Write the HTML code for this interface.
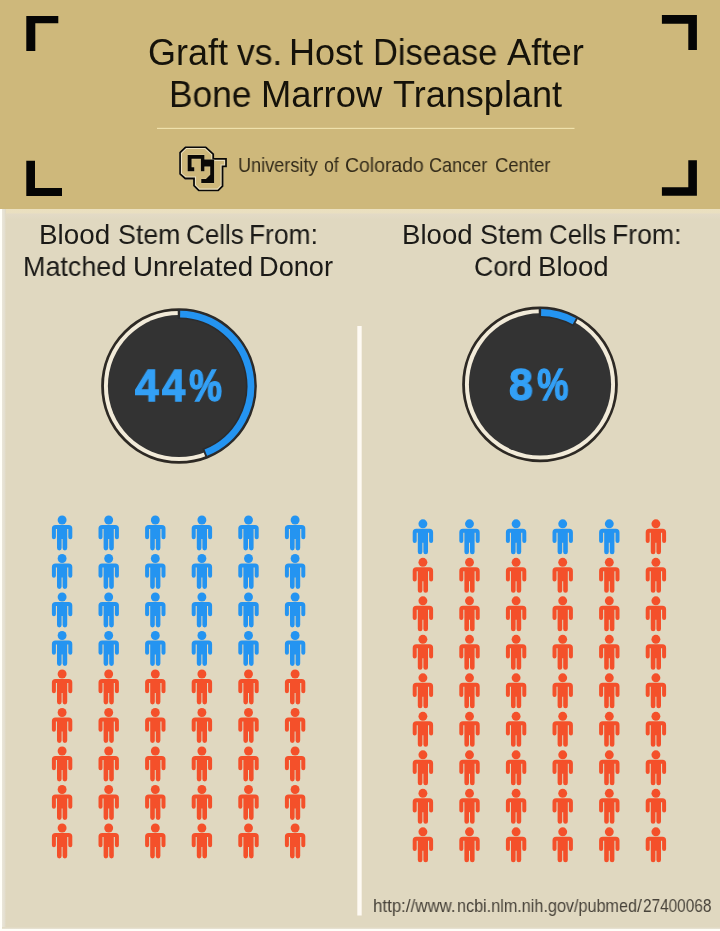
<!DOCTYPE html>
<html lang="en">
<head>
<meta charset="utf-8">
<title>Graft vs. Host Disease After Bone Marrow Transplant</title>
<style>
  html, body { margin: 0; padding: 0; }
  body {
    width: 720px; height: 931px; overflow: hidden; position: relative;
    background: #fffef8;
    font-family: "Liberation Sans", sans-serif;
  }
  #page { position: absolute; left: 0; top: 0; width: 720px; height: 931px; overflow: hidden; }
  #header { position: absolute; left: 0; top: 0; width: 720px; height: 209px; background: #ceb87b; }
  #main { position: absolute; left: 2px; top: 209px; width: 718px; height: 720px; background: #e0d8c0; }
  #main .hl { position: absolute; left: 0; top: 0; width: 100%; height: 11px; background: linear-gradient(#ebe0bf 0, #e9dfc1 4px, #e3dac6 5px, #e1d9c3 8px, #e0d8c0 11px); }
  #main .vl { position: absolute; left: 0; top: 0; width: 4px; height: 100%; background: linear-gradient(90deg, #eae6da 0, #e4dfd0 2.5px, #e0d8c0 4px); }
  #main .bl { position: absolute; left: 0; bottom: 0; width: 100%; height: 2px; background: linear-gradient(#e0d8c0, #e9e4d6); }
  #gfx { position: absolute; left: 0; top: 0; }
  .t { position: absolute; white-space: nowrap; line-height: 1; transform-origin: 0 0; margin: 0; font-weight: normal; }
  .t span { position: absolute; top: 0; display: block; transform-origin: 0 0; will-change: transform; }
  .title { color: #15120a; font-size: 33px; }
  .org { color: #332b1a; font-size: 17.6px; }
  .sub { color: #1b1a17; font-size: 25px; }
  .pct { color: #33a0f6; font-size: 44px; font-weight: bold; -webkit-text-stroke: 1.3px #33a0f6; }
  
  .url { color: #48433a; font-size: 17.9px; }
</style>
</head>
<body>
<div id="page">
  <div id="header"></div>
  <div id="main"><div class="hl"></div><div class="vl"></div><div class="bl"></div></div>

  <svg id="gfx" width="720" height="931" viewBox="0 0 720 931">
    <defs>
      <g id="person">
        <circle cx="10.2" cy="4.4" r="4.45"/>
        <path d="M3.6,9.4 H16.8 A3.6,3.6 0 0 1 20.4,13 V21.6 A2,2 0 0 1 16.4,21.6 V13.4 H15.3 V32.5 A2.15,2.15 0 0 1 10.7,32.5 V23.4 H9.7 V32.5 A2.15,2.15 0 0 1 5.1,32.5 V13.4 H4 V21.6 A2,2 0 0 1 0,21.6 V13 A3.6,3.6 0 0 1 3.6,9.4 Z"/>
      </g>
    </defs>

    <!-- corner brackets -->
    <g fill="#050505">
      <path d="M26.3,16 H58.3 V23.3 H35.3 V51 H26.3 Z"/>
      <path d="M661.9,15 H696.9 V50 H688.3 V23.7 H661.9 Z"/>
      <path d="M26.3,160.8 H35 V188.1 H62 V196.1 H26.3 Z"/>
      <path d="M688.3,160.2 H696.9 V195.8 H661.9 V187.2 H688.3 Z"/>
    </g>

    <!-- CU logo -->
    <defs>
      <clipPath id="cuClip"><path id="cuOuter" d="M120,28 H385 L490,125 V180 H655 V300 H610 V545 L545,610 H290 L220,540 V455 H115 L40,390 V105 Z"/></clipPath>
    </defs>
    <g transform="translate(176,144) scale(0.07778)">
      <use href="#cuOuter" fill="#ceb87b"/>
      <g clip-path="url(#cuClip)">
        <use href="#cuOuter" fill="none" stroke="#ece1c0" stroke-width="74"/>
        <use href="#cuOuter" fill="none" stroke="#0b0906" stroke-width="46"/>
      </g>
      <g fill="#0b0906" stroke="#e9deba" stroke-width="6" paint-order="stroke">
        <path d="M150,140 H365 V200 H490 V500 H325 V450 H385 L440,395 V290 H365 V350 H320 V190 H200 V300 H235 V350 H150 Z"/>
      </g>
    </g>

    <!-- header rule -->
    <rect x="157" y="127.85" width="417.5" height="1" fill="#f5e8b3"/>

    <!-- centre divider -->
    <rect x="357.3" y="326" width="4.4" height="589.5" fill="#fefaf3"/>

    <!-- donut charts -->
    <g>
      <circle cx="179" cy="386" r="76.45" fill="#f2ebd9" stroke="#2d2924" stroke-width="2.8"/>
      <circle cx="179" cy="386" r="71.1" fill="#333333"/>
      <path d="M177.75,314.11 A71.9,71.9 0 0 1 204.06,453.39" fill="none" stroke="#2b2c2e" stroke-width="10"/>
      <path d="M180.13,314.11 A71.9,71.9 0 0 1 205.82,452.71" fill="none" stroke="#2494f1" stroke-width="6.8"/>
      <circle cx="540" cy="384.4" r="76.45" fill="#f2ebd9" stroke="#2d2924" stroke-width="2.8"/>
      <circle cx="540" cy="384.4" r="71.1" fill="#333333"/>
      <path d="M538.75,312.51 A71.9,71.9 0 0 1 575.95,322.13" fill="none" stroke="#2b2c2e" stroke-width="10"/>
      <path d="M541.13,312.51 A71.9,71.9 0 0 1 574.31,321.21" fill="none" stroke="#2494f1" stroke-width="6.8"/>
    </g>

    <!-- pictograms -->
    <g>
      <use href="#person" x="51.9" y="515.6" fill="#2494f1"/><use href="#person" x="98.5" y="515.6" fill="#2494f1"/><use href="#person" x="145.1" y="515.6" fill="#2494f1"/><use href="#person" x="191.7" y="515.6" fill="#2494f1"/><use href="#person" x="238.3" y="515.6" fill="#2494f1"/><use href="#person" x="284.9" y="515.6" fill="#2494f1"/>
      <use href="#person" x="51.9" y="554.1" fill="#2494f1"/><use href="#person" x="98.5" y="554.1" fill="#2494f1"/><use href="#person" x="145.1" y="554.1" fill="#2494f1"/><use href="#person" x="191.7" y="554.1" fill="#2494f1"/><use href="#person" x="238.3" y="554.1" fill="#2494f1"/><use href="#person" x="284.9" y="554.1" fill="#2494f1"/>
      <use href="#person" x="51.9" y="592.6" fill="#2494f1"/><use href="#person" x="98.5" y="592.6" fill="#2494f1"/><use href="#person" x="145.1" y="592.6" fill="#2494f1"/><use href="#person" x="191.7" y="592.6" fill="#2494f1"/><use href="#person" x="238.3" y="592.6" fill="#2494f1"/><use href="#person" x="284.9" y="592.6" fill="#2494f1"/>
      <use href="#person" x="51.9" y="631.1" fill="#2494f1"/><use href="#person" x="98.5" y="631.1" fill="#2494f1"/><use href="#person" x="145.1" y="631.1" fill="#2494f1"/><use href="#person" x="191.7" y="631.1" fill="#2494f1"/><use href="#person" x="238.3" y="631.1" fill="#2494f1"/><use href="#person" x="284.9" y="631.1" fill="#2494f1"/>
      <use href="#person" x="51.9" y="669.6" fill="#f4502a"/><use href="#person" x="98.5" y="669.6" fill="#f4502a"/><use href="#person" x="145.1" y="669.6" fill="#f4502a"/><use href="#person" x="191.7" y="669.6" fill="#f4502a"/><use href="#person" x="238.3" y="669.6" fill="#f4502a"/><use href="#person" x="284.9" y="669.6" fill="#f4502a"/>
      <use href="#person" x="51.9" y="708.1" fill="#f4502a"/><use href="#person" x="98.5" y="708.1" fill="#f4502a"/><use href="#person" x="145.1" y="708.1" fill="#f4502a"/><use href="#person" x="191.7" y="708.1" fill="#f4502a"/><use href="#person" x="238.3" y="708.1" fill="#f4502a"/><use href="#person" x="284.9" y="708.1" fill="#f4502a"/>
      <use href="#person" x="51.9" y="746.6" fill="#f4502a"/><use href="#person" x="98.5" y="746.6" fill="#f4502a"/><use href="#person" x="145.1" y="746.6" fill="#f4502a"/><use href="#person" x="191.7" y="746.6" fill="#f4502a"/><use href="#person" x="238.3" y="746.6" fill="#f4502a"/><use href="#person" x="284.9" y="746.6" fill="#f4502a"/>
      <use href="#person" x="51.9" y="785.1" fill="#f4502a"/><use href="#person" x="98.5" y="785.1" fill="#f4502a"/><use href="#person" x="145.1" y="785.1" fill="#f4502a"/><use href="#person" x="191.7" y="785.1" fill="#f4502a"/><use href="#person" x="238.3" y="785.1" fill="#f4502a"/><use href="#person" x="284.9" y="785.1" fill="#f4502a"/>
      <use href="#person" x="51.9" y="823.6" fill="#f4502a"/><use href="#person" x="98.5" y="823.6" fill="#f4502a"/><use href="#person" x="145.1" y="823.6" fill="#f4502a"/><use href="#person" x="191.7" y="823.6" fill="#f4502a"/><use href="#person" x="238.3" y="823.6" fill="#f4502a"/><use href="#person" x="284.9" y="823.6" fill="#f4502a"/>
    </g>
    <g>
      <use href="#person" x="412.7" y="519.4" fill="#2494f1"/><use href="#person" x="459.3" y="519.4" fill="#2494f1"/><use href="#person" x="505.9" y="519.4" fill="#2494f1"/><use href="#person" x="552.5" y="519.4" fill="#2494f1"/><use href="#person" x="599.1" y="519.4" fill="#2494f1"/><use href="#person" x="645.7" y="519.4" fill="#f4502a"/>
      <use href="#person" x="412.7" y="557.9" fill="#f4502a"/><use href="#person" x="459.3" y="557.9" fill="#f4502a"/><use href="#person" x="505.9" y="557.9" fill="#f4502a"/><use href="#person" x="552.5" y="557.9" fill="#f4502a"/><use href="#person" x="599.1" y="557.9" fill="#f4502a"/><use href="#person" x="645.7" y="557.9" fill="#f4502a"/>
      <use href="#person" x="412.7" y="596.4" fill="#f4502a"/><use href="#person" x="459.3" y="596.4" fill="#f4502a"/><use href="#person" x="505.9" y="596.4" fill="#f4502a"/><use href="#person" x="552.5" y="596.4" fill="#f4502a"/><use href="#person" x="599.1" y="596.4" fill="#f4502a"/><use href="#person" x="645.7" y="596.4" fill="#f4502a"/>
      <use href="#person" x="412.7" y="634.9" fill="#f4502a"/><use href="#person" x="459.3" y="634.9" fill="#f4502a"/><use href="#person" x="505.9" y="634.9" fill="#f4502a"/><use href="#person" x="552.5" y="634.9" fill="#f4502a"/><use href="#person" x="599.1" y="634.9" fill="#f4502a"/><use href="#person" x="645.7" y="634.9" fill="#f4502a"/>
      <use href="#person" x="412.7" y="673.4" fill="#f4502a"/><use href="#person" x="459.3" y="673.4" fill="#f4502a"/><use href="#person" x="505.9" y="673.4" fill="#f4502a"/><use href="#person" x="552.5" y="673.4" fill="#f4502a"/><use href="#person" x="599.1" y="673.4" fill="#f4502a"/><use href="#person" x="645.7" y="673.4" fill="#f4502a"/>
      <use href="#person" x="412.7" y="711.9" fill="#f4502a"/><use href="#person" x="459.3" y="711.9" fill="#f4502a"/><use href="#person" x="505.9" y="711.9" fill="#f4502a"/><use href="#person" x="552.5" y="711.9" fill="#f4502a"/><use href="#person" x="599.1" y="711.9" fill="#f4502a"/><use href="#person" x="645.7" y="711.9" fill="#f4502a"/>
      <use href="#person" x="412.7" y="750.4" fill="#f4502a"/><use href="#person" x="459.3" y="750.4" fill="#f4502a"/><use href="#person" x="505.9" y="750.4" fill="#f4502a"/><use href="#person" x="552.5" y="750.4" fill="#f4502a"/><use href="#person" x="599.1" y="750.4" fill="#f4502a"/><use href="#person" x="645.7" y="750.4" fill="#f4502a"/>
      <use href="#person" x="412.7" y="788.9" fill="#f4502a"/><use href="#person" x="459.3" y="788.9" fill="#f4502a"/><use href="#person" x="505.9" y="788.9" fill="#f4502a"/><use href="#person" x="552.5" y="788.9" fill="#f4502a"/><use href="#person" x="599.1" y="788.9" fill="#f4502a"/><use href="#person" x="645.7" y="788.9" fill="#f4502a"/>
      <use href="#person" x="412.7" y="827.4" fill="#f4502a"/><use href="#person" x="459.3" y="827.4" fill="#f4502a"/><use href="#person" x="505.9" y="827.4" fill="#f4502a"/><use href="#person" x="552.5" y="827.4" fill="#f4502a"/><use href="#person" x="599.1" y="827.4" fill="#f4502a"/><use href="#person" x="645.7" y="827.4" fill="#f4502a"/>
    </g>
  </svg>

  <h1 class="t title" id="t1" style="left:0; top:34.53px; font-size:36px;"><span style="left:148.0px; transform:scaleX(0.997);">Graft</span> <span style="left:237.3px; transform:scaleX(0.984);">vs.</span> <span style="left:289.1px; transform:scaleX(1.001);">Host</span> <span style="left:372.8px; transform:scaleX(0.956);">Disease</span> <span style="left:506.6px; transform:scaleX(1.011);">After</span></h1>
  <h1 class="t title" id="t2" style="left:0; top:77.13px; font-size:36px;"><span style="left:169.3px; transform:scaleX(0.981);">Bone</span> <span style="left:261.0px; transform:scaleX(1.010);">Marrow</span> <span style="left:392.8px; transform:scaleX(1.002);">Transplant</span></h1>
  <div class="t org" id="org" style="left:0; top:156.24px; font-size:19.8px;"><span style="left:237.6px; transform:scaleX(0.915);">University</span> <span style="left:323.6px; transform:scaleX(0.891);">of</span> <span style="left:345.3px; transform:scaleX(0.981);">Colorado</span> <span style="left:429.1px; transform:scaleX(0.913);">Cancer</span> <span style="left:495.3px; transform:scaleX(0.935);">Center</span></div>
  <h2 class="t sub" id="l1" style="left:0; top:221.33px; font-size:27.2px;"><span style="left:39.2px; transform:scaleX(1.023);">Blood</span> <span style="left:117.8px; transform:scaleX(0.984);">Stem</span> <span style="left:186.0px; transform:scaleX(0.957);">Cells</span> <span style="left:249.3px; transform:scaleX(0.970);">From:</span></h2>
  <h2 class="t sub" id="l2" style="left:0; top:252.88px; font-size:27.2px;"><span style="left:23.0px; transform:scaleX(0.990);">Matched</span> <span style="left:133.0px; transform:scaleX(1.020);">Unrelated</span> <span style="left:258.5px; transform:scaleX(1.000);">Donor</span></h2>
  <h2 class="t sub" id="r1" style="left:0; top:221.33px; font-size:27.2px;"><span style="left:401.7px; transform:scaleX(1.015);">Blood</span> <span style="left:479.8px; transform:scaleX(0.992);">Stem</span> <span style="left:548.6px; transform:scaleX(0.948);">Cells</span> <span style="left:611.8px; transform:scaleX(0.978);">From:</span></h2>
  <h2 class="t sub" id="r2" style="left:0; top:252.88px; font-size:27.2px;"><span style="left:474.0px; transform:scaleX(0.982);">Cord</span> <span style="left:538.0px; transform:scaleX(1.015);">Blood</span></h2>

  <div class="t pct" id="p1" style="left:0; top:364.4px;"><span style="left:134.8px; transform:scaleX(0.965);">4</span><span style="left:162.1px; transform:scaleX(0.945);">4</span><span style="left:188.5px; transform:scaleX(0.845);">%</span></div>
  <div class="t pct" id="p2" style="left:0; top:362.8px;"><span style="left:509px; transform:scaleX(0.975);">8</span><span style="left:536.9px; transform:scaleX(0.805);">%</span></div>

  <div class="t url" id="url" style="left:0; top:897.7px;"><span style="left:373.4px; transform:scaleX(0.944);">http://www.</span><span style="left:456.6px; transform:scaleX(0.905);">ncbi.nlm.nih.gov/pubmed/</span><span style="left:642.9px; transform:scaleX(0.859);">27400068</span></div>
</div>
</body>
</html>
